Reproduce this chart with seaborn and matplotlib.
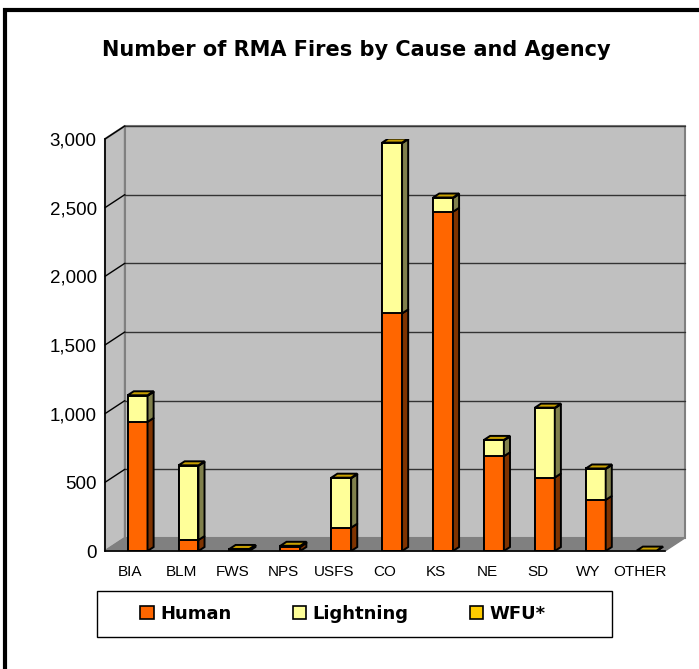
import numpy as np
import pandas as pd
import matplotlib
matplotlib.use("Agg")
import matplotlib.pyplot as plt
import seaborn as sns
from matplotlib.patches import Polygon, Rectangle, Patch

# ============================================================
# Data
# ============================================================

agencies = ["BIA", "BLM", "FWS", "NPS", "USFS", "CO", "KS", "NE", "SD", "WY", "OTHER"]
human = [940, 80, 10, 30, 170, 1730, 2470, 690, 535, 372, 0]
lightning = [190, 540, 2, 5, 360, 1240, 100, 115, 505, 225, 0]
wfu = [4, 4, 3, 3, 4, 4, 4, 4, 4, 4, 3]
series = ["Human", "Lightning", "WFU*"]
y_ticks = [0, 500, 1000, 1500, 2000, 2500, 3000]

colors = {"Human": "#FF6600", "Lightning": "#FFFF99", "WFU*": "#FFCC00"}
side_colors = {"Human": "#7F3300", "Lightning": "#80804C", "WFU*": "#7F6600"}
top_color = "#C8A000"

df = pd.DataFrame({"agency": agencies, "Human": human,
                   "Lightning": lightning, "WFU*": wfu})
df["pos"] = np.arange(len(df)) + 0.14
df["hl"] = df["Human"] + df["Lightning"]
df["total"] = df["hl"] + df["WFU*"]

# ============================================================
# Figure
# ============================================================

sns.set_style("white")
plt.rcParams["font.family"] = ["Liberation Sans", "DejaVu Sans"]
plt.rcParams["text.color"] = "black"
plt.rcParams["xtick.color"] = "black"
plt.rcParams["ytick.color"] = "black"

fig = plt.figure(figsize=(6.99, 6.69), dpi=100)
ax = fig.add_axes([105 / 699, 118 / 669, 560 / 699, 412 / 669])
ax.patch.set_visible(False)

x0, x1 = -0.5, len(agencies) - 0.5
wdx, wdy = 0.39, 95   # depth of the walls
bdx, bdy = 0.12, 29   # depth of the bars
bw = 0.39

# walls and floor
ax.add_patch(Rectangle((x0 + wdx, wdy), x1 - x0, 3000, facecolor="#C0C0C0",
                       edgecolor="#808080", lw=1.5, clip_on=False, zorder=0))
ax.add_patch(Polygon([(x0, 0), (x0 + wdx, wdy), (x0 + wdx, 3000 + wdy), (x0, 3000)],
                     closed=True, facecolor="#C0C0C0", edgecolor="#808080",
                     lw=1.5, clip_on=False, zorder=0))
ax.add_patch(Polygon([(x0, 0), (x1, 0), (x1 + wdx, wdy), (x0 + wdx, wdy)],
                     closed=True, facecolor="#808080", edgecolor="#808080",
                     lw=1, clip_on=False, zorder=0))

for v in y_ticks[1:]:
    ax.plot([x0 + wdx, x1 + wdx], [v + wdy, v + wdy], color="#333333", lw=1,
            clip_on=False, zorder=1)
    ax.plot([x0, x0 + wdx], [v, v + wdy], color="black", lw=1,
            clip_on=False, zorder=1)

# stacked bars (cumulative totals drawn back to front)
for col, name in [("total", "WFU*"), ("hl", "Lightning"), ("Human", "Human")]:
    sns.barplot(data=df, x="pos", y=col, native_scale=True, width=bw,
                color=colors[name], saturation=1, edgecolor="black",
                linewidth=1.4, ax=ax, zorder=3)

# 3D side and top faces
for _, r in df.iterrows():
    xr = r["pos"] + bw / 2
    xl = r["pos"] - bw / 2
    segs = [("Human", 0, r["Human"]), ("Lightning", r["Human"], r["hl"]),
            ("WFU*", r["hl"], r["total"])]
    for name, lo, hi in segs:
        if hi - lo <= 0:
            continue
        ax.add_patch(Polygon([(xr, lo), (xr + bdx, lo + bdy), (xr + bdx, hi + bdy), (xr, hi)],
                             closed=True, facecolor=side_colors[name],
                             edgecolor="black", lw=1.4, zorder=3))
    top = r["total"]
    ax.add_patch(Polygon([(xl, top), (xr, top), (xr + bdx, top + bdy), (xl + bdx, top + bdy)],
                         closed=True, facecolor=top_color,
                         edgecolor="black", lw=1.4, zorder=4))

# axes
ax.set_xlim(x0, x1)
ax.set_ylim(0, 3000)
ax.set_xlabel("")
ax.set_ylabel("")
ax.set_xticks(np.arange(x0, x1 + 0.01, 1))
ax.set_xticklabels([])
ax.set_xticks(np.arange(len(agencies)), minor=True)
ax.set_xticklabels(agencies, minor=True, fontsize=11)
ax.tick_params(axis="x", which="major", direction="out", length=8, width=1, color="black")
ax.tick_params(axis="x", which="minor", length=0, pad=10)
ax.set_yticks(y_ticks)
ax.set_yticklabels([f"{v:,}" for v in y_ticks], fontsize=13.5)
ax.tick_params(axis="y", direction="out", length=4, width=1, color="black", pad=2)
for s in ["top", "right"]:
    ax.spines[s].set_visible(False)
for s in ["left", "bottom"]:
    ax.spines[s].set_color("black")
    ax.spines[s].set_linewidth(1.2)
    ax.spines[s].set_zorder(5)

# title
fig.text(356 / 699, 1 - 50 / 669, "Number of RMA Fires by Cause and Agency",
         ha="center", va="center", fontsize=15, fontweight="bold",
         family=["DejaVu Sans"])

# legend box and entries
fig.add_artist(Rectangle((97 / 699, 32 / 669), 515 / 699, 46 / 669,
                         transform=fig.transFigure, facecolor="white",
                         edgecolor="black", lw=1))
handles = [Patch(facecolor=colors[s], edgecolor="black", lw=1.2) for s in series]
leg = fig.legend(handles, series, loc="center",
                 bbox_to_anchor=(343 / 699, 1 - 614 / 669),
                 ncol=3, frameon=False, handlelength=0.75, handleheight=0.75,
                 handletextpad=0.35, columnspacing=3.4, borderaxespad=0,
                 prop={"family": "DejaVu Sans", "weight": "bold", "size": 13})

# outer border
fig.add_artist(Rectangle((5 / 699, -0.05), 1.0, (669 - 10) / 669 + 0.05,
                         transform=fig.transFigure, fill=False,
                         edgecolor="black", lw=3))

fig.savefig("out.png", dpi=100)
